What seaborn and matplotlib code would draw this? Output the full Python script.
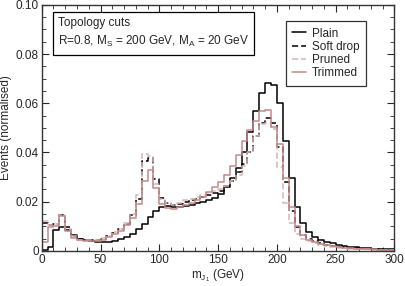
import numpy as np
import pandas as pd
import seaborn as sns
import matplotlib.pyplot as plt
from matplotlib.ticker import MultipleLocator

# jet mass histograms, 5 GeV bins from 0 to 300 GeV
centres = np.arange(2.5, 300, 5)

plain = [0.0003, 0.0015, 0.0085, 0.0097, 0.0085, 0.0066, 0.005, 0.0044, 0.004, 0.0036,
         0.0034, 0.0036, 0.004, 0.0048, 0.0058, 0.007, 0.0088, 0.011, 0.0138, 0.016,
         0.0177, 0.0182, 0.018, 0.0178, 0.0182, 0.0187, 0.0193, 0.0198, 0.0206, 0.0216,
         0.0232, 0.0262, 0.0295, 0.0335, 0.040, 0.0485, 0.057, 0.064, 0.0684, 0.0676,
         0.060, 0.0445, 0.0296, 0.018, 0.0113, 0.0075, 0.0055, 0.0045, 0.0037, 0.003,
         0.0025, 0.002, 0.0017, 0.0014, 0.0012, 0.001, 0.0009, 0.0008, 0.0007, 0.0006]

soft_drop = [0.0115, 0.0105, 0.011, 0.0145, 0.0095, 0.0062, 0.0048, 0.0042, 0.0042, 0.0045,
             0.005, 0.006, 0.0072, 0.0088, 0.011, 0.0145, 0.021, 0.0365, 0.0378, 0.029,
             0.0215, 0.0195, 0.0185, 0.019, 0.0198, 0.0205, 0.021, 0.0218, 0.0225, 0.0235,
             0.0245, 0.026, 0.0285, 0.032, 0.0355, 0.040, 0.0465, 0.052, 0.0538, 0.052,
             0.0424, 0.028, 0.016, 0.0095, 0.0065, 0.0048, 0.0038, 0.003, 0.0025, 0.002,
             0.0017, 0.0014, 0.0012, 0.001, 0.0009, 0.0008, 0.0007, 0.0006, 0.0005, 0.0005]

pruned = [0.012, 0.0105, 0.011, 0.0145, 0.009, 0.006, 0.0046, 0.0042, 0.0042, 0.0046,
          0.0052, 0.0062, 0.0075, 0.009, 0.0115, 0.015, 0.0225, 0.0395, 0.0385, 0.027,
          0.021, 0.0195, 0.0188, 0.0195, 0.0205, 0.0212, 0.022, 0.0228, 0.0235, 0.0242,
          0.025, 0.0262, 0.0285, 0.031, 0.0345, 0.040, 0.0465, 0.0515, 0.052, 0.0495,
          0.034, 0.0195, 0.0115, 0.007, 0.005, 0.0038, 0.003, 0.0024, 0.002, 0.0016,
          0.0013, 0.0011, 0.0009, 0.0008, 0.0007, 0.0006, 0.0005, 0.0005, 0.0004, 0.0004]

trimmed = [0.0035, 0.0095, 0.010, 0.014, 0.008, 0.0052, 0.0042, 0.0038, 0.0038, 0.004,
           0.0045, 0.0055, 0.0068, 0.0082, 0.0105, 0.0135, 0.019, 0.0285, 0.033, 0.0255,
           0.019, 0.0175, 0.0172, 0.0178, 0.0185, 0.0195, 0.0205, 0.022, 0.0238, 0.0258,
           0.028, 0.031, 0.0343, 0.039, 0.0445, 0.049, 0.0527, 0.0567, 0.0573, 0.0505,
           0.0433, 0.0296, 0.018, 0.010, 0.0064, 0.0044, 0.0035, 0.0028, 0.0022, 0.0018,
           0.0014, 0.0012, 0.001, 0.0009, 0.0008, 0.0007, 0.0006, 0.0005, 0.0004, 0.0004]

names = ['Plain', 'Soft drop', 'Pruned', 'Trimmed']
series = [plain, soft_drop, pruned, trimmed]
colours = ['black', 'black', '#d8b4b4', '#c48a8a']
styles = ['-', (0, (4, 2)), (0, (4, 2)), '-']

sns.set_style('ticks')
plt.rcParams['font.family'] = ['Liberation Sans', 'DejaVu Sans']
plt.rcParams['mathtext.fontset'] = 'custom'
plt.rcParams['mathtext.rm'] = 'Liberation Sans'
plt.rcParams['mathtext.it'] = 'Liberation Sans:italic'

fig, ax = plt.subplots(figsize=(4.05, 2.86), dpi=100)
fig.subplots_adjust(left=0.103, right=0.974, bottom=0.123, top=0.983)

for name, vals, c, ls in zip(names, series, colours, styles):
    df = pd.DataFrame({'mass': centres, 'events': vals})
    sns.histplot(data=df, x='mass', weights='events', binwidth=5, binrange=(0, 300),
                 element='step', fill=False, color=c, linestyle=ls, linewidth=1.1,
                 label=name, ax=ax)

ax.set_xlim(0, 300)
ax.set_ylim(0, 0.10)
ax.xaxis.set_major_locator(MultipleLocator(50))
ax.xaxis.set_minor_locator(MultipleLocator(10))
ax.yaxis.set_minor_locator(MultipleLocator(0.005))
ax.set_yticks([0, 0.02, 0.04, 0.06, 0.08, 0.10])
ax.set_yticklabels(['0', '0.02', '0.04', '0.06', '0.08', '0.10'])
ax.tick_params(which='both', direction='in', top=True, right=True, labelsize=8.5, pad=2)
ax.tick_params(which='major', length=5)
ax.tick_params(which='minor', length=3)
for s in ax.spines.values():
    s.set_linewidth(1.0)
    s.set_color('#333333')

ax.set_xlabel(r'm$_{\mathrm{J}_1}$ (GeV)', fontsize=8.5, labelpad=1)
ax.set_ylabel('Events (normalised)', fontsize=8.5, labelpad=3)

ax.text(0.046, 0.952,
        'Topology cuts\nR=0.8, M$_\\mathrm{S}$ = 200 GeV, M$_\\mathrm{A}$ = 20 GeV',
        transform=ax.transAxes, fontsize=8.5, va='top', ha='left', linespacing=1.5,
        bbox=dict(boxstyle='square,pad=0.45', fc='white', ec='black', lw=0.9))

leg = ax.legend(loc='upper right', bbox_to_anchor=(0.937, 0.958), fontsize=8.5,
                frameon=True, fancybox=False, edgecolor='black', handlelength=1.15,
                labelspacing=0.1, borderpad=0.55, handletextpad=0.55)
leg.get_frame().set_linewidth(0.9)

fig.savefig('out.png', dpi=100)
